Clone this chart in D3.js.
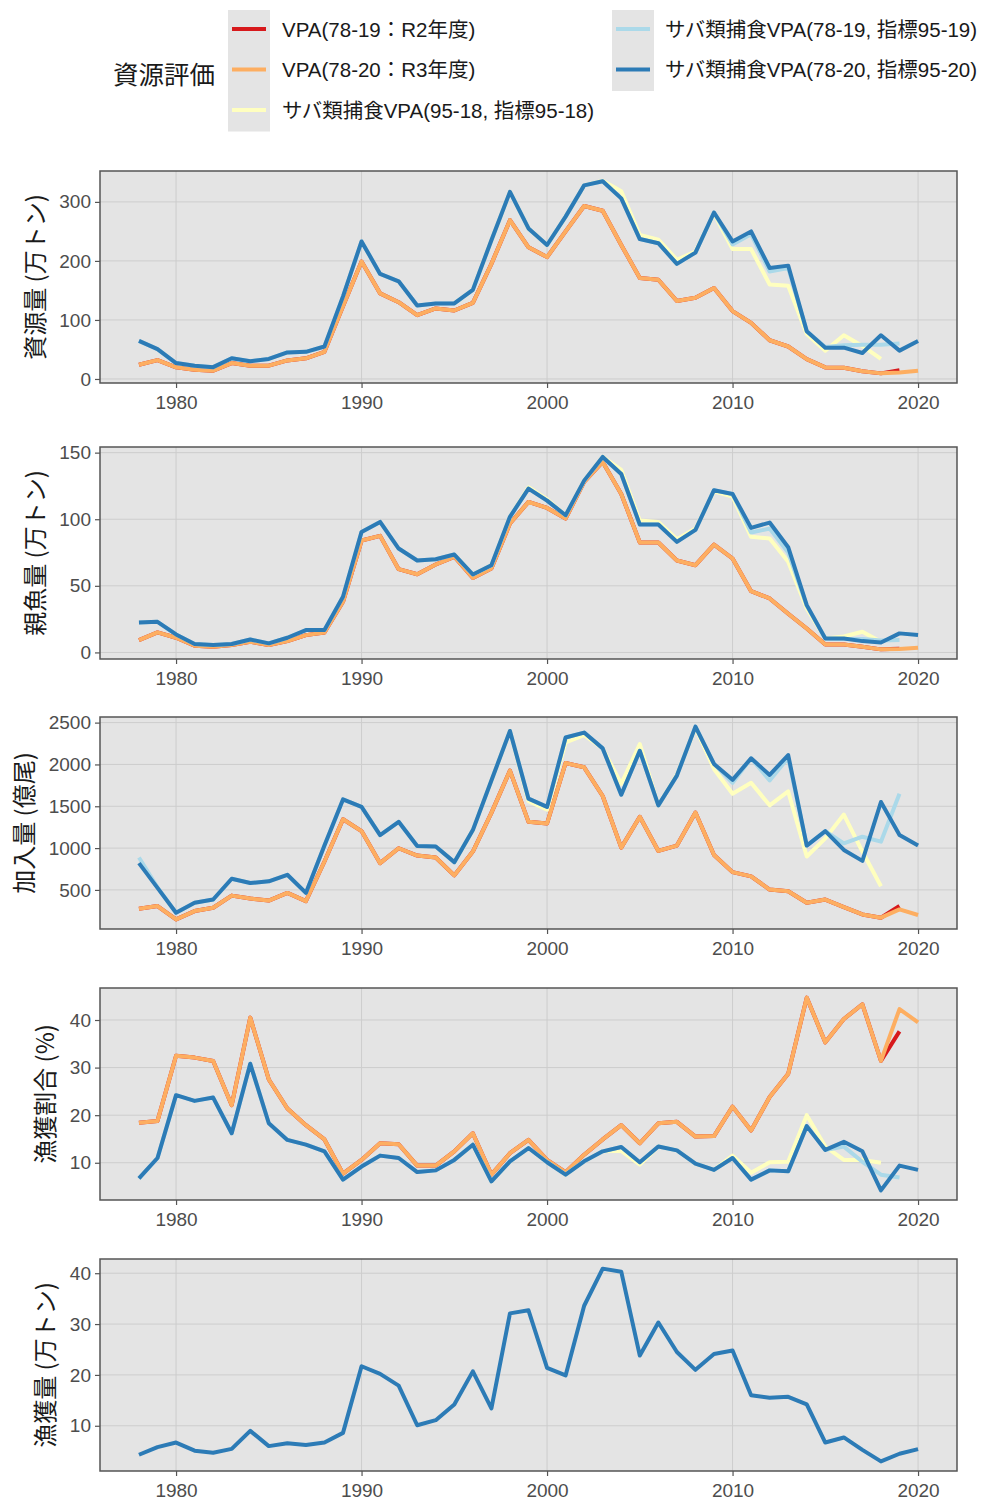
<!DOCTYPE html>
<html><head><meta charset="utf-8">
<script src="https://cdn.jsdelivr.net/npm/d3@7"></script>
<style>
html,body{margin:0;padding:0;background:#fff;}
svg text{font-family:"Liberation Sans","Noto Sans CJK JP",sans-serif;}
</style></head>
<body><svg id="chart" width="983" height="1502"></svg>
<script>
// ---------------- DATA ----------------
const years = d3.range(1978, 2021); // 1978..2020
const xTicks = [1980, 1990, 2000, 2010, 2020];

const seriesNames = [
  "VPA(78-19：R2年度)",
  "VPA(78-20：R3年度)",
  "サバ類捕食VPA(95-18, 指標95-18)",
  "サバ類捕食VPA(78-19, 指標95-19)",
  "サバ類捕食VPA(78-20, 指標95-20)"
];
const seriesColors = ["#d7191c", "#fdae61", "#ffffbf", "#abd9e9", "#2c7bb6"];
const legendTitle = "資源評価";

const panelTitles = ["資源量 (万トン)", "親魚量 (万トン)", "加入量 (億尾)", "漁獲割合 (%)", "漁獲量 (万トン)"];
const yTicks1 = [0, 100, 200, 300];
const yTicks2 = [0, 50, 100, 150];
const yTicks3 = [500, 1000, 1500, 2000, 2500];
const yTicks4 = [10, 20, 30, 40];
const yTicks5 = [10, 20, 30, 40];

const N = null;
// 資源量 (万トン)
const biomassR2 = [24,32,19.7,15.7,14,27,22.5,22.5,31.4,35,46,123,199,145,130,108,119.5,116,129,195,269,223,206.5,250,293,285,227,171,168,132,137.5,154,115,95,65.6,55,33.7,19.6,19,13,9.5,15,N];
const biomassR3 = [24,32,19.7,15.7,14,27,22.5,22.5,31.4,35,46,123,199,145,130,108,119.5,116,129,195,269,223,206.5,250,293,285,227,171,168,132,137.5,154,115,95,65.6,55,33.7,19.6,19,13,9.5,11,14];
const biomassP18 = [N,N,N,N,N,N,N,N,N,N,N,N,N,N,N,N,N,128,151,235,317,255,227,275,328,336,318,244,236,202,216,280,220,220,160,158,76,48,74,56,34,N,N];
const biomassP19 = [64.5,50.5,27,22.5,20,35,30,34,45,46,55,140,233,178,165.5,124.5,128,128,151,235,317,255,227,275,328,335,306,237,230,195,214,282,228,245,182,188,81,54,57,58,58,60,N];
const biomassP20 = [64.5,50.5,27,22.5,20,35,30,34,45,46,55,140,233,178,165.5,124.5,128,128,151,235,317,255,227,275,328,335,306,237,230,195,214,282,233,250,188,192,81,53,53,44,74,48,64.5];

// 親魚量 (万トン)
const ssbR2 = [9.3,15,11,5,4.3,5.5,8,5.5,8.5,13,15,38,84,87.5,62.5,58.7,66,71.8,56,63,96.8,113,108.5,100.5,128,143,119,82.5,82.5,69,65.5,81,70.5,46,40.5,29,18,6,6,4.3,2.3,2.8,N];
const ssbR3 = [9.3,15,11,5,4.3,5.5,8,5.5,8.5,13,15,38,84,87.5,62.5,58.7,66,71.8,56,63,96.8,113,108.5,100.5,128,143,119,82.5,82.5,69,65.5,81,70.5,46,40.5,29,18,6,6,4.3,2.3,2.5,3.5];
const ssbP18 = [N,N,N,N,N,N,N,N,N,N,N,N,N,N,N,N,N,73.5,58.5,65.5,101.8,124,115,103,129,147,137,99,98,85,93,121,117,86.8,85.5,68,33,10.5,12,15.5,8,N,N];
const ssbP19 = [22.5,23,13.5,6.3,5.5,6.3,9.7,6.8,11,16.8,16.8,41.8,90.5,98,78,69,70,73.5,58.5,65.5,101.8,123,114,103,129,146.8,134,96,96,83,92,121.8,119,90,93,75,35,10.5,10,10,9,9.3,N];
const ssbP20 = [22.5,23,13.5,6.3,5.5,6.3,9.7,6.8,11,16.8,16.8,41.8,90.5,98,78,69,70,73.5,58.5,65.5,101.8,123,114,103,129,146.8,134,96,96,83,92,121.8,119,93.5,97.5,79,35.5,10.5,10.5,8.5,7.5,14.3,13];

// 加入量 (億尾)
const recR2 = [275,307,148,247,287,432,397,373,464,366,840,1345,1203,820,998,911,888,674,959,1421,1926,1314,1294,2017,1966,1623,1006,1374,966,1030,1425,918,713,662,504,484,346,385,295,207,168,307,N];
const recR3 = [275,307,148,247,287,432,397,373,464,366,840,1345,1203,820,998,911,888,674,959,1421,1926,1314,1294,2017,1966,1623,1006,1374,966,1030,1425,918,713,662,504,484,346,385,295,207,168,267,200];
const recP18 = [N,N,N,N,N,N,N,N,N,N,N,N,N,N,N,N,N,832,1215,1808,2400,1560,1460,2263,2350,2192,1768,2243,1511,1880,2440,1946,1650,1780,1511,1677,900,1116,1401,959,544,N,N];
const recP19 = [888,530,227,346,385,634,583,603,681,464,1030,1582,1492,1156,1314,1025,1018,832,1215,1808,2400,1591,1492,2322,2381,2192,1638,2163,1511,1867,2452,2006,1780,2073,1808,2080,1030,1203,1057,1136,1077,1650,N];
const recP20 = [820,524,227,346,385,634,583,603,681,464,1030,1582,1492,1156,1314,1025,1018,832,1215,1808,2400,1591,1492,2322,2381,2192,1638,2163,1511,1867,2452,2006,1816,2073,1875,2112,1030,1203,978,847,1551,1156,1030];

// 漁獲割合 (%)
const rateR2 = [18.4,18.8,32.5,32.1,31.4,22.1,40.5,27.5,21.4,17.9,14.9,7.7,10.6,14.1,13.9,9.4,9.4,12.4,16.2,7.5,12.0,14.8,10.6,8,11.7,14.9,17.9,14.1,18.3,18.6,15.5,15.6,21.8,16.8,23.8,28.7,44.7,35.3,40.2,43.3,31.4,37.6,N];
const rateR3 = [18.4,18.8,32.5,32.1,31.4,22.1,40.5,27.5,21.4,17.9,14.9,7.7,10.6,14.1,13.9,9.4,9.4,12.4,16.2,7.5,12.0,14.8,10.6,8,11.7,14.9,17.9,14.1,18.3,18.6,15.5,15.6,21.8,16.8,23.8,28.7,44.7,35.3,40.2,43.3,31.4,42.3,39.5];
const rateP18 = [N,N,N,N,N,N,N,N,N,N,N,N,N,N,N,N,N,10.6,13.8,6.1,10.3,13.1,10.1,7.5,10.3,12.4,12.5,9.6,13.4,12.6,9.8,8.5,11.5,7.9,10.1,10.2,20,13.4,10.6,10.6,10,N,N];
const rateP19 = [6.7,11,24.2,23,23.7,16.2,30.8,18.3,14.8,13.8,12.4,6.45,9.2,11.5,11,8.05,8.4,10.6,13.8,6.1,10.3,13.1,10.1,7.5,10.3,12.4,13.3,10.1,13.4,12.6,9.8,8.5,11,6.45,8.4,8.2,17.7,12.7,13.4,10.2,7.5,6.9,N];
const rateP20 = [6.7,11,24.2,23,23.7,16.2,30.8,18.3,14.8,13.8,12.4,6.45,9.2,11.5,11,8.05,8.4,10.6,13.8,6.1,10.3,13.1,10.1,7.5,10.3,12.4,13.3,10.1,13.4,12.6,9.8,8.5,11,6.45,8.4,8.2,17.7,12.7,14.4,12.4,4.2,9.4,8.5];

// 漁獲量 (万トン)
const catchP20 = [4.3,5.8,6.7,5.1,4.7,5.45,9.0,6.0,6.55,6.2,6.7,8.6,21.7,20.2,17.9,10.1,11.1,14.2,20.7,13.4,32.1,32.7,21.4,19.9,33.6,40.9,40.3,23.8,30.3,24.5,21,24.1,24.8,16,15.5,15.7,14.2,6.7,7.7,5.25,3.0,4.5,5.4];

// ---------------- CHART ----------------
const panels = [
  {title: panelTitles[0], ticks: yTicks1, series: [biomassR2, biomassR3, biomassP18, biomassP19, biomassP20]},
  {title: panelTitles[1], ticks: yTicks2, series: [ssbR2, ssbR3, ssbP18, ssbP19, ssbP20]},
  {title: panelTitles[2], ticks: yTicks3, series: [recR2, recR3, recP18, recP19, recP20]},
  {title: panelTitles[3], ticks: yTicks4, series: [rateR2, rateR3, rateP18, rateP19, rateP20]},
  {title: panelTitles[4], ticks: yTicks5, series: [null, null, null, null, catchP20]}
];

const svg = d3.select("#chart");
const left = 100, right = 957, pH = 212;
const tops = [171, 447, 717, 988, 1259];
const bg = "#e4e4e4", grid = "#cdcdcd", frame = "#555";

const xExt = d3.extent(years), xPad = (xExt[1]-xExt[0])*0.05;
const x = d3.scaleLinear().domain([xExt[0]-xPad, xExt[1]+xPad]).range([left, right]);

panels.forEach((p, i) => {
  const top = tops[i], bottom = top + pH;
  const vals = p.series.filter(s => s).flat().filter(v => v != null);
  const ext = d3.extent(vals), pad = (ext[1]-ext[0])*0.05;
  const y = d3.scaleLinear().domain([ext[0]-pad, ext[1]+pad]).range([bottom, top]);
  const g = svg.append("g");

  g.append("rect").attr("x", left).attr("y", top).attr("width", right-left).attr("height", pH).attr("fill", bg);

  // grid
  g.append("g").selectAll("line").data(p.ticks).join("line")
    .attr("x1", left).attr("x2", right).attr("y1", d => y(d)).attr("y2", d => y(d))
    .attr("stroke", grid).attr("stroke-width", 1);
  g.append("g").selectAll("line").data(xTicks).join("line")
    .attr("y1", top).attr("y2", bottom).attr("x1", d => x(d)).attr("x2", d => x(d))
    .attr("stroke", grid).attr("stroke-width", 1);

  // lines
  const lineGen = d3.line().defined(d => d.v != null).x(d => x(d.yr)).y(d => y(d.v));
  p.series.forEach((s, k) => {
    if (!s) return;
    const data = years.map((yr, j) => ({yr, v: s[j]}));
    g.append("path").datum(data).attr("d", lineGen)
      .attr("fill", "none").attr("stroke", seriesColors[k]).attr("stroke-width", 4)
      .attr("stroke-linejoin", "round");
  });

  // frame
  g.append("rect").attr("x", left).attr("y", top).attr("width", right-left).attr("height", pH)
    .attr("fill", "none").attr("stroke", frame).attr("stroke-width", 1.5);

  // axes
  const yAxis = d3.axisLeft(y).tickValues(p.ticks).tickSize(5).tickPadding(4).tickFormat(d3.format("d"));
  const ya = g.append("g").attr("transform", `translate(${left},0)`).call(yAxis);
  const xAxis = d3.axisBottom(x).tickValues(xTicks).tickSize(5).tickPadding(8).tickFormat(d3.format("d"));
  const xa = g.append("g").attr("transform", `translate(0,${bottom})`).call(xAxis);
  [ya, xa].forEach(a => {
    a.select(".domain").remove();
    a.selectAll(".tick line").attr("stroke", frame).attr("stroke-width", 1.2);
    a.selectAll(".tick text").attr("fill", "#4d4d4d").style("font-size", "19px")
      .style("font-family", '"Liberation Sans", Arial, sans-serif');
  });

  // y title, placed left of the widest tick label
  let minX = left;
  ya.selectAll(".tick text").each(function() {
    const b = this.getBBox();
    minX = Math.min(minX, b.x + left);
  });
  g.append("text").attr("transform", `translate(${minX - 26},${(top+bottom)/2}) rotate(-90)`)
    .attr("text-anchor", "middle").attr("dominant-baseline", "central")
    .style("font-size", "24px").style("font-family", '"Noto Sans CJK JP", sans-serif')
    .attr("fill", "#1a1a1a").text(p.title);
});

// ---------------- LEGEND ----------------
const lg = svg.append("g");
lg.append("text").attr("x", 113).attr("y", 72).attr("dominant-baseline", "central")
  .style("font-size", "25.5px").style("font-family", '"Noto Sans CJK JP", sans-serif')
  .attr("fill", "#1a1a1a").text(legendTitle);

const cols = [{x: 228, tx: 282, items: [0, 1, 2]}, {x: 612, tx: 665, items: [3, 4]}];
cols.forEach(c => {
  lg.append("rect").attr("x", c.x).attr("y", 10).attr("width", 42).attr("height", c.items.length*40.5)
    .attr("fill", bg);
  c.items.forEach((k, r) => {
    const cy = 29 + r*40.5;
    lg.append("line").attr("x1", c.x+4).attr("x2", c.x+38).attr("y1", cy).attr("y2", cy)
      .attr("stroke", seriesColors[k]).attr("stroke-width", 4);
    lg.append("text").attr("x", c.tx).attr("y", cy).attr("dominant-baseline", "central")
      .style("font-size", "20.5px").attr("fill", "#1a1a1a").text(seriesNames[k]);
  });
});
</script></body></html>
